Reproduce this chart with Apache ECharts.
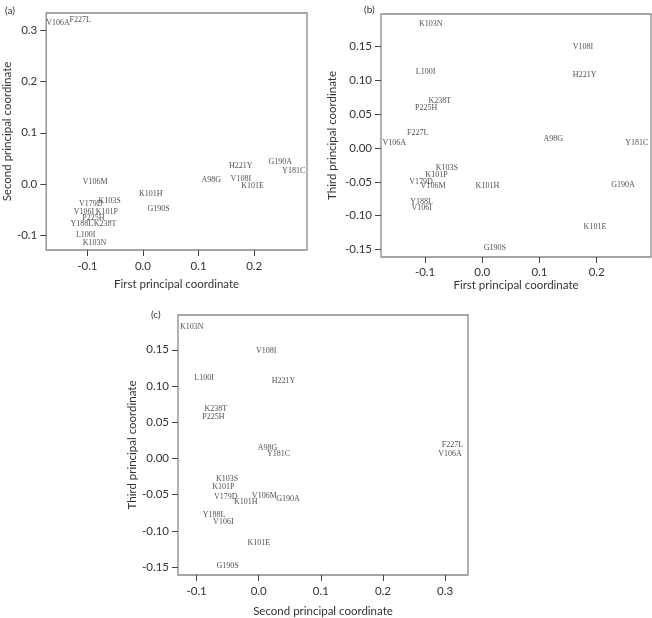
<!DOCTYPE html>
<html><head><meta charset="utf-8">
<script src="https://cdn.jsdelivr.net/npm/echarts@6/dist/echarts.min.js"></script>
<style>html,body{margin:0;padding:0;background:#fff}#c{width:652px;height:618px}</style>
</head><body><div id="c"></div><script>
// Mutation labels
const mutations = ["A98G","L100I","K101E","K101H","K101P","K103N","K103S","V106A","V106I","V106M","V108I","V179D","Y181C","Y188L","G190A","G190S","H221Y","P225H","F227L","K238T"];
// Panel (a): first (x) vs second (y) principal coordinate
const panelA_pc1 = [0.123,-0.103,0.197,0.014,-0.065,-0.087,-0.060,-0.153,-0.106,-0.086,0.176,-0.094,0.271,-0.110,0.247,0.028,0.176,-0.089,-0.113,-0.068];
const panelA_pc2 = [0.008,-0.099,-0.003,-0.019,-0.053,-0.114,-0.033,0.313,-0.054,0.005,0.010,-0.039,0.025,-0.077,0.043,-0.049,0.036,-0.065,0.319,-0.077];
// Panel (b): first (x) vs third (y) principal coordinate
const panelB_pc1 = [0.124,-0.099,0.197,0.009,-0.080,-0.090,-0.062,-0.154,-0.106,-0.086,0.176,-0.107,0.270,-0.106,0.246,0.022,0.179,-0.098,-0.113,-0.074];
const panelB_pc3 = [0.013,0.113,-0.116,-0.056,-0.040,0.184,-0.029,0.007,-0.088,-0.056,0.149,-0.050,0.008,-0.080,-0.055,-0.148,0.108,0.059,0.022,0.069];
// Panel (c): second (x) vs third (y) principal coordinate
const panelC_pc2 = [0.014,-0.088,0.000,-0.021,-0.057,-0.108,-0.051,0.308,-0.057,0.009,0.012,-0.053,0.032,-0.072,0.047,-0.050,0.040,-0.073,0.312,-0.069];
const panelC_pc3 = [0.015,0.111,-0.116,-0.060,-0.039,0.182,-0.028,0.006,-0.087,-0.052,0.148,-0.053,0.006,-0.078,-0.056,-0.148,0.107,0.057,0.019,0.068];
// Tick labels
const ticksPC1 = [-0.1,0.0,0.1,0.2];
const ticksPC2a = [-0.1,0.0,0.1,0.2,0.3];
const ticksPC2c = [-0.1,0.0,0.1,0.2,0.3];
const ticksPC3 = [-0.15,-0.10,-0.05,0.00,0.05,0.10,0.15];

const SANS = 'Lato, "Open Sans", sans-serif';
const SERIF = '"Liberation Serif", "DejaVu Serif", serif';

function axis(gi, min, max, ticks, dec, name, gap, lblMargin) {
  return {
    type: 'value', gridIndex: gi, min: min, max: max, scale: true,
    name: name, nameLocation: 'middle', nameGap: gap,
    nameTextStyle: {fontFamily: SANS, fontSize: 11.5, color: '#333'},
    axisLine: {show: false, onZero: false}, splitLine: {show: false},
    axisTick: {show: true, length: 6, customValues: ticks, lineStyle: {color: '#444', width: 1}},
    axisLabel: {customValues: ticks, formatter: v => Number(v).toFixed(dec),
      fontFamily: SANS, fontSize: 11.5, color: '#333', margin: lblMargin}
  };
}
function series(gi, xs, ys) {
  return {
    type: 'scatter', xAxisIndex: gi, yAxisIndex: gi, symbolSize: 1, silent: true,
    itemStyle: {color: 'rgba(0,0,0,0)'},
    data: mutations.map((m, k) => ({name: m, value: [xs[k], ys[k]]})),
    label: {show: true, position: 'inside', formatter: '{b}', fontFamily: SERIF,
      fontSize: 8, color: '#222', align: 'center', verticalAlign: 'middle'}
  };
}
const gridStyle = {show: true, borderColor: '#888', borderWidth: 1.3, backgroundColor: 'transparent'};
const chart = echarts.init(document.getElementById('c'), null, {renderer: 'canvas'});
chart.setOption({
  animation: false,
  backgroundColor: '#fff',
  title: [
    {text: '(a)', left: 0, top: 1, textStyle: {fontFamily: SANS, fontSize: 10, fontWeight: 'normal', color: '#333'}},
    {text: '(b)', left: 359, top: 0, textStyle: {fontFamily: SANS, fontSize: 10, fontWeight: 'normal', color: '#333'}},
    {text: '(c)', left: 146, top: 305, textStyle: {fontFamily: SANS, fontSize: 10, fontWeight: 'normal', color: '#333'}}
  ],
  grid: [
    Object.assign({left: 41, top: 13, width: 266, height: 237}, gridStyle),
    Object.assign({left: 381, top: 14, width: 270, height: 243}, gridStyle),
    Object.assign({left: 178, top: 315, width: 290, height: 260}, gridStyle)
  ],
  xAxis: [
    axis(0, -0.174, 0.295, ticksPC1, 1, 'First principal coordinate', 28, 10),
    axis(1, -0.177, 0.295, ticksPC1, 1, 'First principal coordinate', 22, 9),
    axis(2, -0.130, 0.337, ticksPC2c, 1, 'Second principal coordinate', 30, 10)
  ],
  yAxis: [
    axis(0, -0.128, 0.333, ticksPC2a, 1, 'Second principal coordinate', 28, 9),
    axis(1, -0.161, 0.198, ticksPC3, 2, 'Third principal coordinate', 43, 9),
    axis(2, -0.161, 0.198, ticksPC3, 2, 'Third principal coordinate', 39, 9)
  ],
  series: [
    series(0, panelA_pc1, panelA_pc2),
    series(1, panelB_pc1, panelB_pc3),
    series(2, panelC_pc2, panelC_pc3)
  ]
});
</script></body></html>
